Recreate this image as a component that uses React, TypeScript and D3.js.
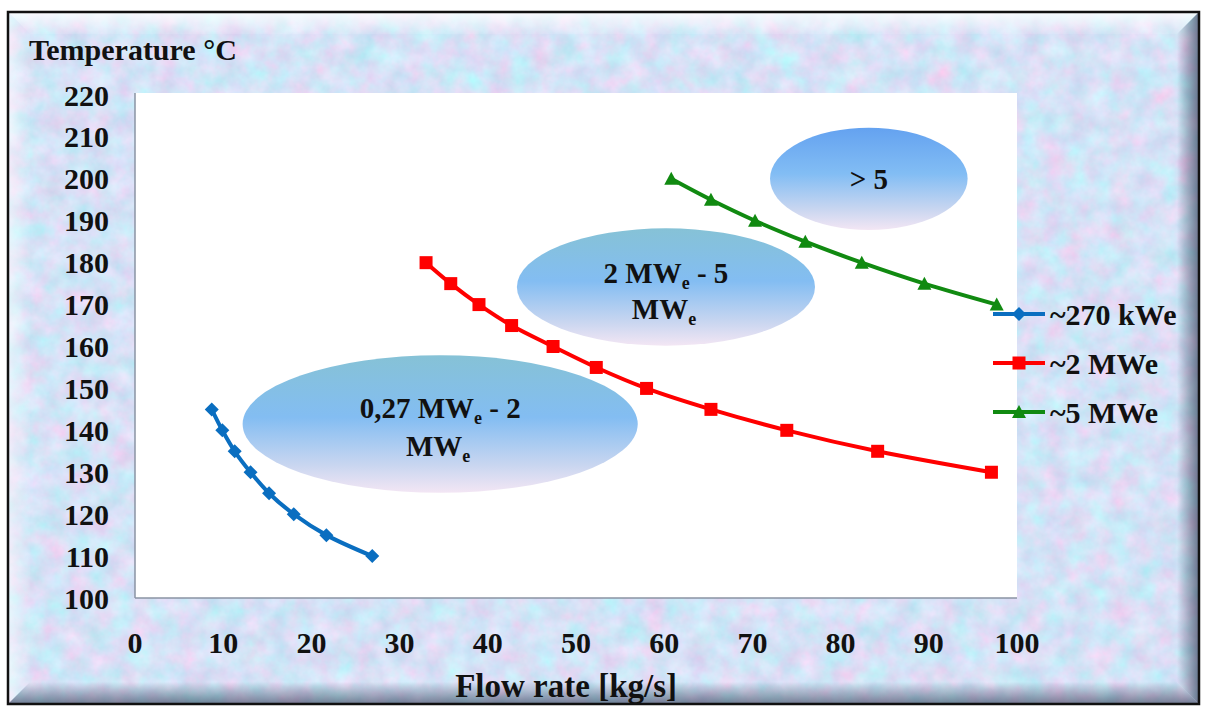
import React from "react";
import * as d3 from "d3";

// ---- Data ----
const flow270k = [8.7, 9.9, 11.3, 13.1, 15.2, 18.0, 21.7, 26.9];
const temp270k = [145, 140, 135, 130, 125, 120, 115, 110];

const flow2M = [33.0, 35.8, 39.0, 42.7, 47.4, 52.3, 58.0, 65.3, 73.9, 84.2, 97.1];
const temp2M = [180, 175, 170, 165, 160, 155, 150, 145, 140, 135, 130];

const flow5M = [60.8, 65.3, 70.3, 76.0, 82.4, 89.5, 97.7];
const temp5M = [200, 195, 190, 185, 180, 175, 170];

const xTicks = [0, 10, 20, 30, 40, 50, 60, 70, 80, 90, 100];
const yTicks = [100, 110, 120, 130, 140, 150, 160, 170, 180, 190, 200, 210, 220];

const seriesNames = ["~270 kWe", "~2 MWe", "~5 MWe"];
const seriesColors = ["#0a6ec0", "#ff0000", "#118a11"];
const seriesMarkers = ["diamond", "square", "triangle"];

// Region annotations (data units): centre flow, centre temp, radius flow, radius temp
const regionCx = [34.6, 60.2, 83.2];
const regionCy = [141.5, 174.2, 200];
const regionRx = [22.4, 16.9, 11.2];
const regionRy = [16.4, 14.0, 12.2];

const W = 1209;
const H = 707;

export default function App() {
  const x = d3.scaleLinear().domain([0, 100]).range([135, 1017]);
  const y = d3.scaleLinear().domain([100, 220]).range([598, 95]);

  const series = [
    { fx: flow270k, ty: temp270k },
    { fx: flow2M, ty: temp2M },
    { fx: flow5M, ty: temp5M },
  ];

  const line = d3
    .line<[number, number]>()
    .x((d) => x(d[0]))
    .y((d) => y(d[1]))
    .curve(d3.curveCatmullRom.alpha(0.5));

  const markerPath = (kind: string, cx: number, cy: number) => {
    if (kind === "diamond") {
      const r = 7;
      return `M${cx},${cy - r}L${cx + r},${cy}L${cx},${cy + r}L${cx - r},${cy}Z`;
    }
    if (kind === "square") {
      const r = 6.5;
      return `M${cx - r},${cy - r}H${cx + r}V${cy + r}H${cx - r}Z`;
    }
    const r = 7;
    return `M${cx},${cy - r}L${cx + r},${cy + 6}L${cx - r},${cy + 6}Z`;
  };

  const font = "'Liberation Serif', 'Times New Roman', serif";

  // frame geometry
  const fx0 = 8, fy0 = 12, fx1 = 1199, fy1 = 704, bv = 22;

  const subText = (parts: { t: string; sub?: boolean }[]) =>
    parts.map((p, i) =>
      p.sub ? (
        <tspan key={i} fontSize={18} dy={6}>
          {p.t}
        </tspan>
      ) : (
        <tspan key={i} dy={i > 0 && parts[i - 1].sub ? -6 : 0}>
          {p.t}
        </tspan>
      )
    );

  return (
    <div style={{ position: "absolute", left: 0, top: 0 }}>
      <svg width={W} height={H} style={{ display: "block" }}>
        <defs>
          <filter id="tex" x="0" y="0" width="100%" height="100%" colorInterpolationFilters="sRGB">
            <feTurbulence type="fractalNoise" baseFrequency="0.045" numOctaves={4} seed={7} result="n" />
            <feColorMatrix
              in="n"
              type="matrix"
              values="0.24 -0.17 0 0 0.80  -0.12 0 0.14 0 0.875  0 0 0.08 0 0.925  0 0 0 0 1"
            />
          </filter>
          <linearGradient id="ell" x1="0" y1="0" x2="0" y2="1">
            <stop offset="0%" stopColor="#86c2d6" />
            <stop offset="45%" stopColor="#83bdf2" />
            <stop offset="80%" stopColor="#c9d6f0" />
            <stop offset="100%" stopColor="#f3e6f4" />
          </linearGradient>
          <linearGradient id="ell3" x1="0" y1="0" x2="0" y2="1">
            <stop offset="0%" stopColor="#64a2f0" />
            <stop offset="45%" stopColor="#82bdf4" />
            <stop offset="80%" stopColor="#c9d6f0" />
            <stop offset="100%" stopColor="#f3e6f4" />
          </linearGradient>
          <filter id="glow" x="-20%" y="-20%" width="140%" height="140%">
            <feGaussianBlur stdDeviation="4" />
          </filter>
          <linearGradient id="bvTop" x1="0" y1="0" x2="0" y2="1">
            <stop offset="0%" stopColor="#ffffff" stopOpacity={0.85} />
            <stop offset="100%" stopColor="#ffffff" stopOpacity={0.1} />
          </linearGradient>
          <linearGradient id="bvLeft" x1="0" y1="0" x2="1" y2="0">
            <stop offset="0%" stopColor="#ffffff" stopOpacity={0.55} />
            <stop offset="100%" stopColor="#ffffff" stopOpacity={0.05} />
          </linearGradient>
          <linearGradient id="bvRight" x1="1" y1="0" x2="0" y2="0">
            <stop offset="0%" stopColor="#3c4660" stopOpacity={0.7} />
            <stop offset="100%" stopColor="#3c4660" stopOpacity={0.0} />
          </linearGradient>
          <linearGradient id="bvBottom" x1="0" y1="1" x2="0" y2="0">
            <stop offset="0%" stopColor="#3c4660" stopOpacity={0.65} />
            <stop offset="100%" stopColor="#3c4660" stopOpacity={0.0} />
          </linearGradient>
        </defs>

        <rect x={0} y={0} width={W} height={H} fill="#ffffff" />
        {/* textured background */}
        <rect x={fx0} y={fy0} width={fx1 - fx0} height={fy1 - fy0} filter="url(#tex)" />
        {/* bevel */}
        <polygon points={`${fx0},${fy0} ${fx1},${fy0} ${fx1 - bv},${fy0 + bv} ${fx0 + bv},${fy0 + bv}`} fill="url(#bvTop)" />
        <polygon points={`${fx0},${fy0} ${fx0 + bv},${fy0 + bv} ${fx0 + bv},${fy1 - bv} ${fx0},${fy1}`} fill="url(#bvLeft)" />
        <polygon points={`${fx1},${fy0} ${fx1},${fy1} ${fx1 - bv},${fy1 - bv} ${fx1 - bv},${fy0 + bv}`} fill="url(#bvRight)" />
        <polygon points={`${fx0},${fy1} ${fx1},${fy1} ${fx1 - bv},${fy1 - bv} ${fx0 + bv},${fy1 - bv}`} fill="url(#bvBottom)" />

        {/* plot area */}
        <rect x={x(0)} y={y(220) - 2} width={x(100) - x(0)} height={y(100) - y(220) + 2} fill="#ffffff" />
        <line x1={x(0)} x2={x(0)} y1={y(220) - 2} y2={y(100)} stroke="#8a93a3" strokeWidth={1.5} />
        <line x1={x(0)} x2={x(100)} y1={y(100)} y2={y(100)} stroke="#8a93a3" strokeWidth={1.5} />

        {/* region ellipses */}
        {regionCx.map((c, i) => {
          const cx = x(c);
          const cy = y(regionCy[i]);
          const rx = x(regionRx[i]) - x(0);
          const ry = y(100) - y(100 + regionRy[i]);
          return (
            <g key={i}>
              <ellipse cx={cx} cy={cy} rx={rx + 4} ry={ry + 4} fill="#ffffff" filter="url(#glow)" />
              <ellipse cx={cx} cy={cy} rx={rx} ry={ry} fill={i === 2 ? "url(#ell3)" : "url(#ell)"} />
            </g>
          );
        })}

        {/* region labels */}
        <g fontFamily={font} fontWeight="bold" fontSize={29} fill="#111" textAnchor="middle">
          <text x={x(regionCx[0])} y={y(regionCy[0]) - 6}>
            {subText([{ t: "0,27 MW" }, { t: "e", sub: true }, { t: " - 2" }])}
          </text>
          <text x={x(regionCx[0]) - 2} y={y(regionCy[0]) + 32}>
            {subText([{ t: "MW" }, { t: "e", sub: true }])}
          </text>
          <text x={x(regionCx[1])} y={y(regionCy[1]) - 4}>
            {subText([{ t: "2 MW" }, { t: "e", sub: true }, { t: " - 5" }])}
          </text>
          <text x={x(regionCx[1]) - 2} y={y(regionCy[1]) + 32}>
            {subText([{ t: "MW" }, { t: "e", sub: true }])}
          </text>
          <text x={x(regionCx[2])} y={y(regionCy[2]) + 10}>
            {"> 5"}
          </text>
        </g>

        {/* series */}
        {series.map((s, i) => {
          const pts: [number, number][] = s.fx.map((v, j) => [v, s.ty[j]]);
          return (
            <g key={i}>
              <path d={line(pts) || ""} fill="none" stroke={seriesColors[i]} strokeWidth={4} />
              {pts.map((p, j) => (
                <path key={j} d={markerPath(seriesMarkers[i], x(p[0]), y(p[1]))} fill={seriesColors[i]} />
              ))}
            </g>
          );
        })}

        {/* axes labels */}
        <g fontFamily={font} fontWeight="bold" fontSize={30} fill="#111">
          {yTicks.map((t) => (
            <text key={t} x={109} y={y(t)} dy="0.35em" textAnchor="end">
              {t}
            </text>
          ))}
          {xTicks.map((t) => (
            <text key={t} x={x(t)} y={642} dy="0.35em" textAnchor="middle">
              {t}
            </text>
          ))}
          <text x={29} y={60} fontSize={30}>
            Temperature °C
          </text>
          <text x={677} y={697} textAnchor="end" fontSize={33}>
            Flow rate [kg/s]
          </text>
        </g>

        {/* frame border */}
        <rect x={fx0} y={fy0} width={fx1 - fx0} height={fy1 - fy0} fill="none" stroke="#111" strokeWidth={2.5} />

        {/* legend */}
        <g fontFamily={font} fontWeight="bold" fontSize={30} fill="#111">
          {seriesNames.map((n, i) => {
            const ly = 314 + i * 49;
            return (
              <g key={n}>
                <line x1={993} x2={1045} y1={ly} y2={ly} stroke={seriesColors[i]} strokeWidth={4} />
                <path d={markerPath(seriesMarkers[i], 1019, ly)} fill={seriesColors[i]} />
                <text x={1050} y={ly} dy="0.35em">
                  {n}
                </text>
              </g>
            );
          })}
        </g>
      </svg>
    </div>
  );
}
